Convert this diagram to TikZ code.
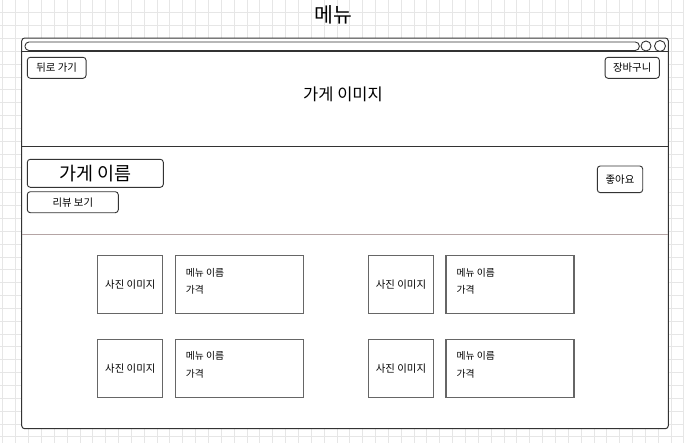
\documentclass[tikz,border=0pt]{standalone}
\usepackage{fontspec}
\setmainfont{Noto Sans CJK KR}
\usetikzlibrary{positioning}
\definecolor{gridgray}{HTML}{E6E6E6}
\definecolor{divider}{HTML}{B4A4A4}

\begin{document}
\begin{tikzpicture}[x=1pt,y=-1pt,node distance=109pt,on grid,
   btn/.style={draw=black!80,line width=0.9pt,rounded corners=3pt,inner sep=0pt,font=\fontsize{10.4}{12}\selectfont},
   photo/.style={draw=black!60,line width=1.1pt,minimum width=65pt,minimum height=58pt,inner sep=0pt,font=\fontsize{10.4}{12}\selectfont},
   menubox/.style={draw=black!60,line width=1.1pt,minimum width=128pt,minimum height=58pt,inner sep=0pt},
   info/.style={anchor=north west,align=left,inner sep=0pt,font=\fontsize{9.8}{17.6}\selectfont}]
   \useasboundingbox (0,0) rectangle (684,442);
   \draw[gridgray,line width=0.6pt,shift={(2.7,-0.2)}] (-2.7,0.2) grid[step=12.85pt] (684,445);
   \node (title) at (333,15) {\fontsize{20.5}{24}\selectfont 메뉴};
   % browser window
   \draw[black!80,fill=white,line width=1pt,rounded corners=3pt] (21.7,38) rectangle (668.3,428.7);
   \draw[black!80,line width=0.9pt,rounded corners=4pt] (25,42) rectangle (639.3,50.5);
   \node[draw=black!80,line width=0.9pt,circle,inner sep=0pt,minimum size=10pt] (dot1) at (646,46) {};
   \node[draw=black!80,line width=0.9pt,circle,inner sep=0pt,minimum size=11pt] (dot2) at (660,46) {};
   \coordinate (barL) at (21.7,51.5);  \coordinate (barR) at (668.3,51.5);
   \coordinate (imgL) at (21.7,146.7); \coordinate (imgR) at (668.3,146.7);
   \coordinate (infL) at (21.7,234);   \coordinate (infR) at (668.3,234);
   \draw[black!80,line width=1pt] (barL) -- (barR);
   \draw[black!80,line width=1pt] (imgL) -- (imgR);
   \draw[divider,line width=1pt] (infL) -- (infR);
   % store header
   \node[btn,minimum width=58.7pt,minimum height=21pt] (back) at (56.7,67.8) {뒤로 가기};
   \node[btn,minimum width=54.3pt,minimum height=21pt] (cart) at (632.2,67.8) {장바구니};
   \node (storeimg) at (343,94) {\fontsize{16.5}{18}\selectfont 가게 이미지};
   \node[btn,minimum width=136pt,minimum height=28pt,font=\fontsize{18.5}{20}\selectfont] (storename) at (95.3,173.3) {가게 이름};
   \node[btn,minimum width=91pt,minimum height=21pt] (review) at (72.8,202.2) {리뷰 보기};
   \node[btn,minimum width=45.4pt,minimum height=26.7pt] (like) at (620,179.3) {좋아요};
   % menu cards
   \node[photo] (p1) at (130.3,284.8) {사진 이미지};
   \node[menubox] (m1) [right=of p1] {};
   \node[photo] (p2) [below=83.5pt of p1] {사진 이미지};
   \node[menubox] (m2) [right=of p2] {};
   \node[photo] (p3) [right=270.7pt of p1] {사진 이미지};
   \node[menubox] (m3) [right=of p3] {};
   \node[photo] (p4) [right=270.7pt of p2] {사진 이미지};
   \node[menubox] (m4) [right=of p4] {};
   \foreach \m in {m1,m2,m3,m4}
      \node[info] (\m t) at ([xshift=11pt,yshift=-12.5pt]\m.north west) {메뉴 이름\\가격};
\end{tikzpicture}
\end{document}
